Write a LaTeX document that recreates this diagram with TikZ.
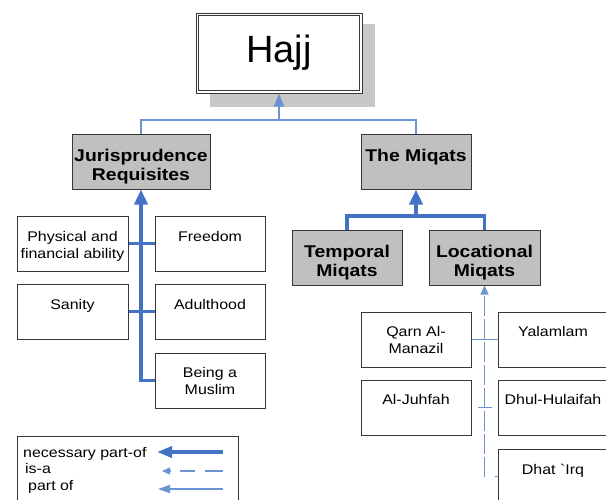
\documentclass[tikz,border=0pt]{standalone}
\usepackage{fontspec}
\setmainfont[FakeStretch=1.14, Ligatures=TeXOff]{Liberation Sans}
\newfontfamily\hajjfont{Liberation Sans}
\usetikzlibrary{arrows.meta}
\definecolor{thickblue}{RGB}{68,114,196}
\definecolor{thinblue}{RGB}{108,148,210}
\definecolor{boxgray}{RGB}{192,192,192}
\definecolor{shadowgray}{RGB}{200,200,200}
\definecolor{edgecol}{RGB}{55,55,55}
\begin{document}
\begin{tikzpicture}[x=1pt,y=-1pt,
  wbox/.style={draw=edgecol, line width=1pt, fill=white, minimum width=110pt, minimum height=55pt, inner sep=0pt},
  gbox/.style={wbox, fill=boxgray},
  ltext/.style={anchor=north, inner sep=0pt, align=center, font=\fontsize{14}{17}\selectfont},
  btext/.style={anchor=north, inner sep=0pt, align=center, font=\fontsize{17}{19}\selectfont\bfseries},
  legtext/.style={anchor=base west, inner sep=0pt, font=\fontsize{14}{17}\selectfont},
  thickline/.style={draw=thickblue, line width=3.5pt},
  nec/.style={thickline, -{Triangle[length=15pt,width=13pt]}},
  thinline/.style={draw=thinblue, line width=1.2pt},
  po/.style={thinline, -{Triangle[length=13pt,width=10pt]}},
  isaline/.style={draw=thinblue, line width=1.2pt},
  isa/.style={isaline, dash pattern=on 20pt off 3pt, -{Triangle[length=9pt,width=8pt]}}
]
\useasboundingbox (0,0) rectangle (606,499);
\clip (0,0) rectangle (606,499);

% Hajj
\fill[shadowgray] (210,24) rectangle (375,107);
\node[draw=edgecol, line width=1pt, fill=white, minimum width=166pt, minimum height=80pt, inner sep=0pt] (hajj) at (279,53) {};
\draw[draw=edgecol, line width=1.6pt] ([shift={(3pt,3pt)}]hajj.south west) rectangle ([shift={(-3pt,-3pt)}]hajj.north east);
\node[inner sep=0pt, font=\hajjfont\fontsize{38}{40}\selectfont] (hajjtext) at (279,53) {Hajj};

% second level
\node[gbox, minimum width=138pt] (juris) at (141,161.5) {};
\node[btext] (juristext) at ([yshift=-15pt]juris.north) {Jurisprudence\\Requisites};
\node[gbox] (miqats) at (416,161.5) {};
\node[btext] (miqatstext) at ([yshift=-15pt]miqats.north) {The Miqats};

% jurisprudence children
\node[wbox, minimum width=111pt] (phys) at (72.5,243.5) {};
\node[ltext] (physt) at ([yshift=-15.5pt]phys.north) {Physical and\\financial ability};
\node[wbox] (freedom) at (210,243.5) {};
\node[ltext] (freedomt) at ([yshift=-15.5pt]freedom.north) {Freedom};
\node[wbox, minimum width=111pt] (sanity) at (72.5,311.5) {};
\node[ltext] (sanityt) at ([yshift=-15.5pt]sanity.north) {Sanity};
\node[wbox] (adult) at (210,311.5) {};
\node[ltext] (adultt) at ([yshift=-15.5pt]adult.north) {Adulthood};
\node[wbox] (muslim) at (210,380.5) {};
\node[ltext] (muslimt) at ([yshift=-15pt]muslim.north) {Being a\\Muslim};

% miqats children
\node[gbox] (temporal) at (347,257.5) {};
\node[btext] (temporalt) at ([yshift=-15pt]temporal.north) {Temporal\\Miqats};
\node[gbox, minimum width=111pt] (locational) at (484.5,257.5) {};
\node[btext] (locationalt) at ([yshift=-15pt]locational.north) {Locational\\Miqats};

% locational children
\node[wbox] (qarn) at (416,339.5) {};
\node[ltext] (qarnt) at ([yshift=-15pt]qarn.north) {Qarn Al-\\Manazil};
\node[wbox] (yalam) at (553,339.5) {};
\node[ltext] (yalamt) at ([yshift=-15pt]yalam.north) {Yalamlam};
\node[wbox] (juhfah) at (416,407.5) {};
\node[ltext] (juhfaht) at ([yshift=-15pt]juhfah.north) {Al-Juhfah};
\node[wbox] (dhul) at (553,407.5) {};
\node[ltext] (dhult) at ([yshift=-15pt]dhul.north) {Dhul-Hulaifah};
\node[wbox] (dhat) at (553,476.5) {};
\node[ltext] (dhatt) at ([yshift=-15pt]dhat.north) {Dhat `Irq};

% Hajj connectors
\coordinate (hj) at (279,120);
\draw[thinline] (juris.north) |- (hj) -| (miqats.north);
\draw[po] (hj) -- (hajj.south);

% Jurisprudence connectors
\coordinate (jb) at (juris.south |- muslim.west);
\draw[thickline] (phys.east) -- (freedom.west);
\draw[thickline] (sanity.east) -- (adult.west);
\draw[nec, line join=miter] (muslim.west) -- (jb) -- (juris.south);

% Miqats connectors
\coordinate (mj) at (416,216);
\draw[thickline, line join=miter] (temporal.north) |- (mj) -| (locational.north);
\draw[nec] (mj) -- (miqats.south);

% Locational connectors
\coordinate (le) at (484.5,477);
\draw[thinline] (qarn.east) -- (yalam.west);
\draw[isaline, dash pattern=on 14pt off 40pt, dash phase=48pt] (juhfah.east) -- (dhul.west);
\draw[isaline, dash pattern=on 5pt off 40pt, dash phase=34.5pt] (le) -- (dhat.west);
\draw[isa] (le) -- (locational.south);

% Legend
\node[draw=edgecol, line width=1pt, fill=white, minimum width=221pt, minimum height=80pt, inner sep=0pt] (legend) at (127.5,476) {};
\node[legtext] (l1) at (23,457.5) {necessary part-of};
\node[legtext] (l2) at (25,473.5) {is-a};
\node[legtext] (l3) at (28,490.5) {part of};
\coordinate (a1s) at (223,452);
\coordinate (a1e) at (157,452);
\coordinate (a2s) at (223,471);
\coordinate (a2e) at (162,471);
\coordinate (a3s) at (223,489);
\coordinate (a3e) at (158,489);
\draw[thickline, -{Triangle[length=15pt,width=11pt]}] (a1s) -- (a1e);
\draw[isaline, dash pattern=on 18pt off 10pt on 15pt off 10pt, -{Triangle[length=8pt,width=7pt]}] (a2s) -- (a2e);
\draw[thinline, -{Triangle[length=12pt,width=8pt]}] (a3s) -- (a3e);
\end{tikzpicture}
\end{document}
